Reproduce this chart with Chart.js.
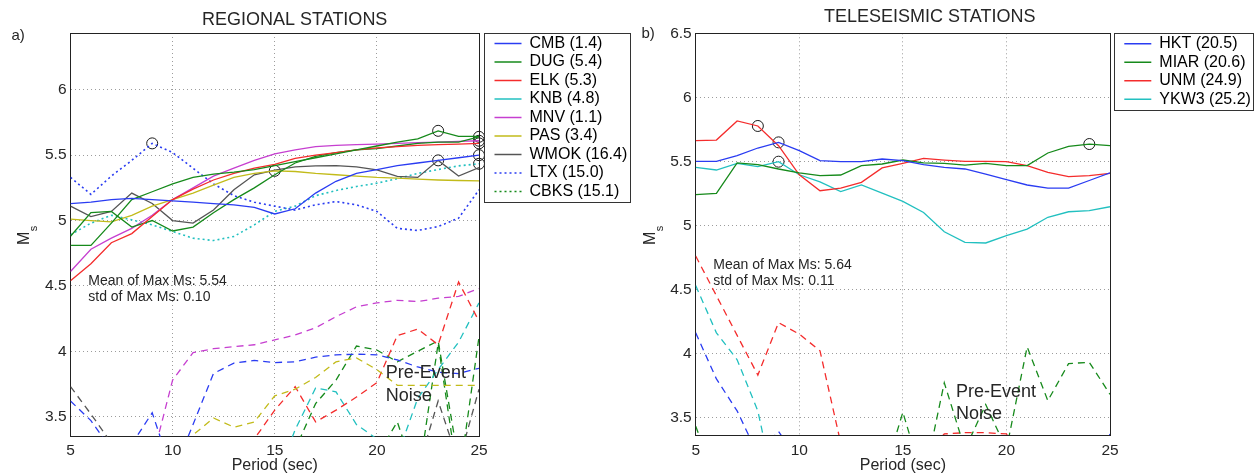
<!DOCTYPE html>
<html>
<head>
<meta charset="utf-8">
<title>Ms versus period</title>
<script src="https://cdn.jsdelivr.net/npm/chart.js@4.4.1/dist/chart.umd.min.js"></script>
<style>
  html, body { margin: 0; padding: 0; background: #fff; }
  #wrap { position: relative; width: 1254px; height: 474px; overflow: hidden; }
  canvas { position: absolute; top: 0; }
  #regionalChart { left: 0; }
  #teleChart { left: 634px; }
</style>
</head>
<body>
<div id="wrap">
  <canvas id="regionalChart" width="634" height="474"></canvas>
  <canvas id="teleChart" width="620" height="474"></canvas>
</div>
<script>
// ---- data ----------------------------------------------------------------
const periods = [5, 6, 7, 8, 9, 10, 11, 12, 13, 14, 15, 16, 17, 18, 19, 20, 21, 22, 23, 24, 25];

// regional stations (distance in degrees)
const regionalNames = ['CMB', 'DUG', 'ELK', 'KNB', 'MNV', 'PAS', 'WMOK', 'LTX', 'CBKS'];
const regionalDist = [1.4, 5.4, 5.3, 4.8, 1.1, 3.4, 16.4, 15.0, 15.1];
const regionalPeak = [25, 23, 25, 25, 25, 15, 23, 9, 25];

const cmbMs  = [5.13, 5.14, 5.16, 5.17, 5.16, 5.15, 5.14, 5.13, 5.12, 5.10, 5.05, 5.09, 5.21, 5.30, 5.36, 5.39, 5.42, 5.44, 5.46, 5.48, 5.50];
const dugMs  = [4.81, 4.81, 4.98, 5.16, 5.22, 5.28, 5.33, 5.355, 5.37, 5.39, 5.42, 5.45, 5.48, 5.51, 5.54, 5.57, 5.60, 5.625, 5.686, 5.643, 5.643];
const elkMs  = [4.54, 4.67, 4.83, 4.90, 5.03, 5.16, 5.24, 5.31, 5.36, 5.40, 5.43, 5.475, 5.50, 5.52, 5.54, 5.555, 5.565, 5.575, 5.58, 5.585, 5.59];
const knbMs  = [4.88, 5.06, 5.07, 4.95, 5.00, 4.92, 4.95, 5.06, 5.16, 5.25, 5.35, 5.44, 5.49, 5.52, 5.54, 5.55, 5.57, 5.59, 5.60, 5.60, 5.64];
const mnvMs  = [4.61, 4.78, 4.865, 4.94, 5.04, 5.16, 5.25, 5.34, 5.40, 5.46, 5.51, 5.54, 5.565, 5.575, 5.58, 5.585, 5.59, 5.595, 5.60, 5.605, 5.61];
const pasMs  = [5.01, 5.00, 4.99, 5.04, 5.11, 5.16, 5.21, 5.27, 5.33, 5.36, 5.38, 5.375, 5.36, 5.35, 5.34, 5.33, 5.325, 5.317, 5.31, 5.306, 5.303];
const wmokMs = [5.11, 5.03, 5.07, 5.21, 5.13, 5.00, 4.98, 5.08, 5.235, 5.35, 5.385, 5.41, 5.418, 5.42, 5.41, 5.388, 5.337, 5.33, 5.46, 5.34, 5.405];
const ltxMs  = [5.33, 5.20, 5.34, 5.46, 5.59, 5.52, 5.40, 5.28, 5.19, 5.14, 5.11, 5.08, 5.12, 5.145, 5.12, 5.07, 4.94, 4.924, 4.954, 5.018, 5.235];
const cbksMs = [4.89, 4.98, 5.04, 5.005, 4.967, 4.916, 4.865, 4.847, 4.878, 4.967, 5.07, 5.11, 5.19, 5.23, 5.26, 5.286, 5.32, 5.36, 5.39, 5.418, 5.434];

// pre-event noise, regional
const mnvNoise  = [3.0, 3.0, 3.0, 3.0, 3.17, 3.78, 3.99, 4.02, 4.036, 4.05, 4.087, 4.125, 4.18, 4.265, 4.34, 4.37, 4.39, 4.38, 4.406, 4.42, 4.48];
const cmbNoise  = [3.62, 3.47, 3.25, 3.29, 3.53, 3.06, 3.44, 3.83, 3.91, 3.93, 3.914, 3.92, 3.955, 3.973, 3.978, 3.973, 3.934, 3.88, 3.84, 3.83, 3.87];
const pasNoise  = [3.0, 3.0, 3.0, 3.0, 3.0, 3.0, 3.36, 3.49, 3.42, 3.46, 3.66, 3.71, 3.80, 3.92, 3.95, 3.86, 3.74, 3.74, 3.74, 3.74, 3.74];
const elkNoise  = [3.0, 3.0, 3.0, 3.0, 3.0, 3.0, 3.0, 3.0, 3.0, 3.33, 3.55, 3.73, 3.46, 3.55, 3.65, 3.76, 4.12, 4.17, 4.05, 4.53, 4.23];
const cbksNoise = [3.0, 3.0, 3.0, 3.0, 3.0, 3.0, 3.0, 3.0, 3.0, 3.0, 3.0, 3.40, 3.72, 3.69, 3.44, 3.33, 3.20, 3.64, 3.86, 4.07, 4.37];
const knbNoise  = [3.0, 3.0, 3.0, 3.0, 3.0, 3.0, 3.0, 3.0, 3.0, 3.0, 3.0, 3.25, 3.60, 3.78, 4.04, 4.01, 3.92, 4.00, 4.08, 3.16, 3.0];
const dugNoise  = [3.0, 3.0, 3.0, 3.0, 3.0, 3.0, 3.0, 3.0, 3.0, 3.0, 3.0, 3.0, 3.0, 3.0, 3.0, 3.20, 3.46, 3.0, 4.06, 3.0, 4.11];
const wmokNoise = [3.73, 3.52, 3.30, 3.0, 3.0, 3.0, 3.0, 3.0, 3.0, 3.0, 3.0, 3.0, 3.0, 3.0, 3.0, 3.0, 3.0, 3.10, 3.62, 3.15, 3.71];

// teleseismic stations
const teleNames = ['HKT', 'MIAR', 'UNM', 'YKW3'];
const teleDist = [20.5, 20.6, 24.9, 25.2];
const telePeak = [9, 24, 8, 9];

const hktMs  = [5.50, 5.50, 5.544, 5.604, 5.648, 5.583, 5.505, 5.497, 5.497, 5.518, 5.505, 5.474, 5.453, 5.44, 5.40, 5.356, 5.315, 5.29, 5.29, 5.35, 5.41];
const miarMs = [5.24, 5.25, 5.487, 5.474, 5.44, 5.41, 5.388, 5.393, 5.466, 5.479, 5.51, 5.487, 5.484, 5.471, 5.484, 5.466, 5.466, 5.565, 5.617, 5.635, 5.622];
const unmMs  = [5.661, 5.666, 5.815, 5.776, 5.622, 5.395, 5.27, 5.29, 5.336, 5.448, 5.484, 5.523, 5.51, 5.50, 5.50, 5.497, 5.466, 5.414, 5.38, 5.388, 5.406];
const ykw3Ms = [5.453, 5.432, 5.484, 5.458, 5.497, 5.395, 5.34, 5.263, 5.315, 5.252, 5.187, 5.10, 4.95, 4.867, 4.862, 4.92, 4.97, 5.063, 5.106, 5.114, 5.145];

const hktNoise  = [4.16, 3.80, 3.55, 3.21, 3.39, 3.15, 3.0, 3.0, 3.0, 3.0, 3.0, 3.0, 3.0, 3.0, 3.0, 3.0, 3.0, 3.0, 3.0, 3.0, 3.37];
const miarNoise = [3.43, 3.0, 3.0, 3.0, 3.0, 3.0, 3.0, 3.0, 3.0, 3.0, 3.54, 3.0, 3.77, 3.25, 3.60, 3.25, 4.05, 3.63, 3.92, 3.93, 3.68];
const unmNoise  = [4.76, 4.45, 4.14, 3.83, 4.24, 4.15, 4.02, 3.30, 3.0, 3.0, 3.0, 3.20, 3.37, 3.38, 3.38, 3.37, 3.20, 3.0, 3.0, 3.0, 3.0];
const ykw3Noise = [4.53, 4.16, 3.95, 3.55, 2.80, 3.0, 3.0, 3.0, 3.0, 3.0, 3.0, 3.0, 3.0, 3.0, 3.0, 3.0, 3.0, 3.0, 3.0, 3.0, 3.0];

// ---- styling -------------------------------------------------------------
const FONT = "'Liberation Sans', Arial, Helvetica, sans-serif";
const INK = '#262626';
const AXIS = '#222';
const GRID = '#9c9c9c';
const COL = {
  blue: '#2a3cf2', green: '#168a1b', red: '#f42c2c', cyan: '#22c0c0',
  magenta: '#c63fd0', yellow: '#c2bb1a', gray: '#555555'
};
const SOLID = [];
const DOTTED = [2, 3];
const DASHED = [7, 5];

Chart.defaults.font.family = FONT;
Chart.defaults.color = INK;

function series(values) {
  return periods.map((p, i) => ({ x: p, y: values[i] }));
}

function valueAt(values, period) {
  return values[periods.indexOf(period)];
}

function peakStats(signals, peaks) {
  const v = signals.map((s, i) => valueAt(s, peaks[i]));
  const mean = v.reduce((a, b) => a + b, 0) / v.length;
  const sd = Math.sqrt(v.reduce((a, b) => a + (b - mean) ** 2, 0) / (v.length - 1));
  return { mean, sd };
}

// draws the panel title, tag, rotated M_s label and the text notes
function textPlugin(p) {
  return {
    id: 'panelText',
    afterDraw(chart) {
      const ctx = chart.ctx;
      const xs = chart.scales.x, ys = chart.scales.y;
      ctx.save();
      ctx.fillStyle = INK;
      ctx.textBaseline = 'alphabetic';

      ctx.font = `18px ${FONT}`;
      ctx.textAlign = 'center';
      ctx.fillText(p.title, p.titleX, p.titleY);

      ctx.textAlign = 'left';
      ctx.font = `15px ${FONT}`;
      ctx.fillText(p.tag, p.tagX, p.tagY);

      ctx.save();
      ctx.translate(p.msX, p.msY);
      ctx.rotate(-Math.PI / 2);
      ctx.font = `16px ${FONT}`;
      ctx.fillText('M', 0, 0);
      const mw = ctx.measureText('M').width;
      ctx.font = `11px ${FONT}`;
      ctx.fillText('s', mw + 0.5, 8);
      ctx.restore();

      p.notes.forEach(n => {
        ctx.font = `${n.size}px ${FONT}`;
        const px = xs.getPixelForValue(n.x);
        const py = ys.getPixelForValue(n.y);
        n.lines.forEach((t, i) => ctx.fillText(t, px, py + i * n.gap));
      });
      ctx.restore();
    }
  };
}

// outline round the legend entries
const legendFrame = {
  id: 'legendFrame',
  afterDraw(chart) {
    const lg = chart.legend;
    const boxes = lg && lg.legendHitBoxes;
    if (!boxes || !boxes.length) return;
    const last = boxes[boxes.length - 1];
    const left = Math.round(lg.left - 8) + 0.5;
    const right = Math.min(Math.round(Math.max(...boxes.map(b => b.left + b.width)) + 3), chart.width - 1) + 0.5;
    const top = Math.round(lg.top) + 0.5;
    const bottom = Math.round(last.top + last.height + 2.5) + 0.5;
    const ctx = chart.ctx;
    ctx.save();
    ctx.strokeStyle = '#333';
    ctx.lineWidth = 1;
    ctx.strokeRect(left, top, right - left, bottom - top);
    ctx.restore();
  }
};

function makePanel(canvasId, p) {
  const signalSets = p.signals.map((vals, i) => ({
    label: p.names[i],
    data: series(vals),
    borderColor: p.colors[i],
    borderDash: p.dashes[i],
    borderWidth: p.dashes[i].length ? 1.6 : 1.3,
    pointRadius: 0,
    xAxisID: 'x', yAxisID: 'y'
  }));
  const noiseSets = p.noise.map((vals, i) => ({
    label: 'noise',
    data: series(vals),
    borderColor: p.noiseColors[i],
    borderDash: DASHED,
    borderWidth: 1.3,
    pointRadius: 0,
    xAxisID: 'x', yAxisID: 'y'
  }));
  const peakSet = {
    label: 'picked Ms',
    data: p.signals.map((vals, i) => ({ x: p.peaks[i], y: valueAt(vals, p.peaks[i]) })),
    showLine: false,
    pointRadius: 5.5,
    pointBorderWidth: 1,
    pointBorderColor: '#1a1a1a',
    pointBackgroundColor: 'rgba(0,0,0,0)',
    clip: false,
    xAxisID: 'x', yAxisID: 'y'
  };

  const st = peakStats(p.signals, p.peaks);
  p.notes = [
    { x: p.statX, y: p.statY, size: 14, gap: 16,
      lines: [`Mean of Max Ms: ${st.mean.toFixed(2)}`, `std of Max Ms: ${st.sd.toFixed(2)}`] },
    { x: p.noiseX, y: p.noiseY, size: 18, gap: p.noiseGap, lines: ['Pre-Event', 'Noise'] }
  ];

  return new Chart(document.getElementById(canvasId), {
    type: 'line',
    data: { datasets: [...signalSets, ...noiseSets, peakSet] },
    options: {
      responsive: false,
      animation: false,
      events: [],
      layout: { padding: { top: p.areaTop, right: p.padRight, bottom: 0, left: 0 } },
      scales: {
        x: {
          type: 'linear', min: 5, max: 25,
          ticks: { stepSize: 5, padding: p.xTickPad, font: { size: 15.5 }, color: INK, maxRotation: 0, autoSkip: false },
          grid: { color: GRID, drawTicks: false },
          border: { color: AXIS, width: 1, dash: [1, 3] },
          title: { display: true, text: 'Period (sec)', font: { size: 16, lineHeight: 1 }, padding: 0, color: INK },
          afterFit: s => { s.height = p.xHeight; }
        },
        y: {
          type: 'linear', min: p.yMin, max: p.yMax,
          ticks: { stepSize: 0.5, includeBounds: false, padding: 4, font: { size: 15.5 }, color: INK, callback: v => String(v) },
          grid: { color: GRID, drawTicks: false },
          border: { color: AXIS, width: 1, dash: [1, 3] },
          afterFit: s => { s.width = p.yWidth; }
        },
        x2: {
          type: 'linear', position: 'top', display: true,
          ticks: { display: false }, grid: { display: false },
          border: { color: AXIS, width: 1 },
          afterFit: s => { s.height = 0; }
        },
        y2: {
          type: 'linear', position: 'right', display: true,
          ticks: { display: false }, grid: { display: false },
          border: { color: AXIS, width: 1 },
          afterFit: s => { s.width = p.y2Width; }
        }
      },
      plugins: {
        title: { display: false },
        tooltip: { enabled: false },
        legend: {
          position: 'right',
          align: 'start',
          maxWidth: p.legendWidth,
          labels: {
            usePointStyle: true,
            pointStyleWidth: 27,
            padding: 2.5,
            font: { size: 16 },
            color: INK,
            generateLabels: () => p.names.map((n, i) => ({
              text: `${n} (${p.dist[i].toFixed(1)})`,
              strokeStyle: p.legendColors[i],
              fillStyle: p.legendColors[i],
              lineWidth: 1.5,
              lineDash: p.legendDashes[i],
              pointStyle: 'line',
              hidden: false,
              datasetIndex: i
            }))
          }
        }
      }
    },
    plugins: [textPlugin(p), legendFrame]
  });
}

// ---- a) regional stations -------------------------------------------------
makePanel('regionalChart', {
  names: regionalNames,
  dist: regionalDist,
  peaks: regionalPeak,
  signals: [cmbMs, dugMs, elkMs, knbMs, mnvMs, pasMs, wmokMs, ltxMs, cbksMs],
  colors: [COL.blue, COL.green, COL.red, COL.green, COL.magenta, COL.yellow, COL.gray, COL.blue, COL.cyan],
  dashes: [SOLID, SOLID, SOLID, SOLID, SOLID, SOLID, SOLID, DOTTED, DOTTED],
  legendColors: [COL.blue, COL.green, COL.red, COL.cyan, COL.magenta, COL.yellow, COL.gray, COL.blue, COL.green],
  legendDashes: [SOLID, SOLID, SOLID, SOLID, SOLID, SOLID, SOLID, DOTTED, DOTTED],
  noise: [mnvNoise, cmbNoise, pasNoise, elkNoise, cbksNoise, knbNoise, dugNoise, wmokNoise],
  noiseColors: [COL.magenta, COL.blue, COL.yellow, COL.red, COL.cyan, COL.green, COL.green, COL.gray],
  yMin: 3.347, yMax: 6.434,
  areaTop: 33, padRight: 4, legendWidth: 138, yWidth: 70.5, y2Width: 13,
  xHeight: 37.3, xTickPad: 5,
  title: 'REGIONAL STATIONS', titleX: 294.7, titleY: 25.3,
  tag: 'a)', tagX: 11.5, tagY: 40,
  msX: 29.3, msY: 245,
  statX: 5.87, statY: 4.508,
  noiseX: 20.44, noiseY: 3.794, noiseGap: 22.4
});

// ---- b) teleseismic stations ----------------------------------------------
makePanel('teleChart', {
  names: teleNames,
  dist: teleDist,
  peaks: telePeak,
  signals: [hktMs, miarMs, unmMs, ykw3Ms],
  colors: [COL.blue, COL.green, COL.red, COL.cyan],
  dashes: [SOLID, SOLID, SOLID, SOLID],
  legendColors: [COL.blue, COL.green, COL.red, COL.cyan],
  legendDashes: [SOLID, SOLID, SOLID, SOLID],
  noise: [hktNoise, miarNoise, unmNoise, ykw3Noise],
  noiseColors: [COL.blue, COL.green, COL.red, COL.cyan],
  yMin: 3.362, yMax: 6.5,
  areaTop: 33.3, padRight: 1.2, legendWidth: 131, yWidth: 61.7, y2Width: 11.8,
  xHeight: 39, xTickPad: 6,
  title: 'TELESEISMIC STATIONS', titleX: 295.7, titleY: 21.5,
  tag: 'b)', tagX: 7.5, tagY: 37.5,
  msX: 21, msY: 245,
  statX: 5.85, statY: 4.659,
  noiseX: 17.56, noiseY: 3.656, noiseGap: 21.7
});
</script>
</body>
</html>
